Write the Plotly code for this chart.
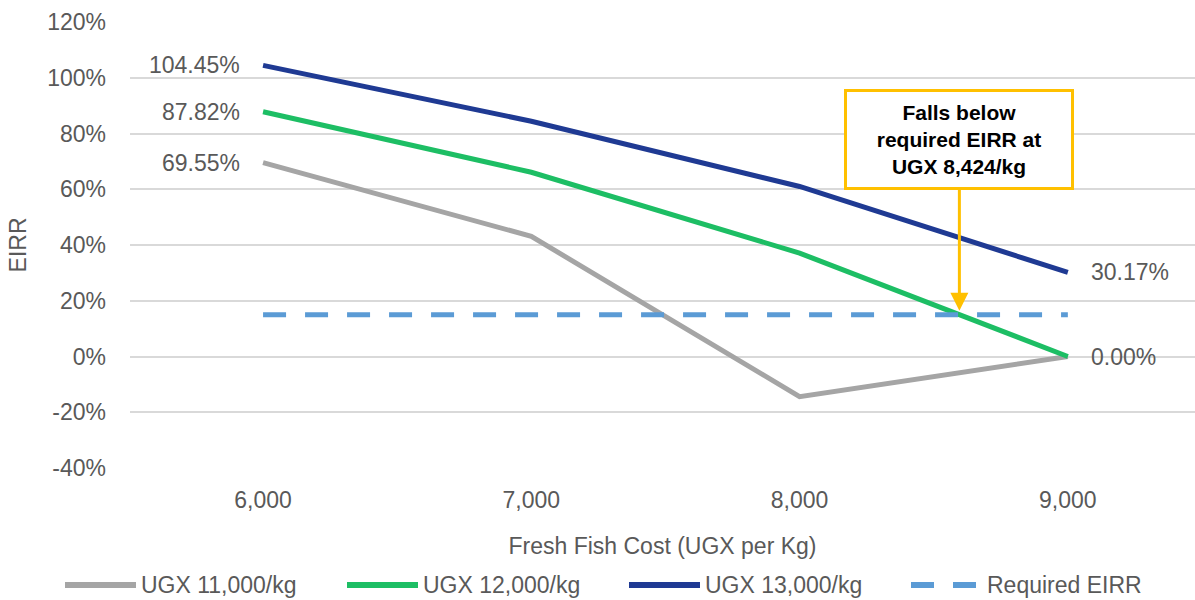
import plotly.graph_objects as go

# Fresh fish cost scenarios (UGX per kg)
fish_cost = [6000, 7000, 8000, 9000]
cost_labels = ["6,000", "7,000", "8,000", "9,000"]

# EIRR (%) for each selling price scenario
series_names = ["UGX 11,000/kg", "UGX 12,000/kg", "UGX 13,000/kg"]
eirr_11000 = [69.55, 43.1, -14.4, 0.00]
eirr_12000 = [87.82, 66.1, 37.1, 0.00]
eirr_13000 = [104.45, 84.4, 61.0, 30.17]
required_eirr = [15, 15, 15, 15]
required_name = "Required EIRR"

# y-axis ticks (percent)
y_ticks = [-40, -20, 0, 20, 40, 60, 80, 100, 120]
y_tick_labels = [f"{v}%" for v in y_ticks]

colors = ["#A5A5A5", "#1DBE64", "#1F3A93"]
req_color = "#5B9BD5"
note_color = "#FFC000"
text_color = "#595959"
FONT = "Liberation Sans, Arial, sans-serif"

# plot-area geometry (pixels) used to place the custom legend
W, H = 1195, 600
ML, MR, MT, MB = 130, 0, 22, 132
PW = W - ML - MR
PH = H - MT - MB


def px_x(p):
    return (p - ML) / PW


def px_y(p):
    return (H - MB - p) / PH


fig = go.Figure()

all_series = [eirr_11000, eirr_12000, eirr_13000]
for name, vals, col in zip(series_names, all_series, colors):
    fig.add_trace(go.Scatter(
        x=fish_cost, y=vals, mode="lines", name=name,
        line=dict(color=col, width=5), showlegend=False,
    ))

fig.add_trace(go.Scatter(
    x=fish_cost, y=required_eirr, mode="lines", name=required_name,
    line=dict(color=req_color, width=5, dash="23px,19px"), showlegend=False,
))

annotations = []

# value labels at the first and last points
for vals in all_series:
    annotations.append(dict(
        x=fish_cost[0], y=vals[0], text=f"{vals[0]:.2f}%", showarrow=False,
        xanchor="right", yanchor="middle", xshift=-21,
        font=dict(family=FONT, size=23, color=text_color),
    ))
for vals in [eirr_12000, eirr_13000]:
    annotations.append(dict(
        x=fish_cost[-1], y=vals[-1], text=f"{vals[-1]:.2f}%", showarrow=False,
        xanchor="left", yanchor="middle", xshift=21,
        font=dict(family=FONT, size=23, color=text_color),
    ))

# where the UGX 12,000/kg line meets the required EIRR
x0, x1 = fish_cost[2], fish_cost[3]
y0, y1 = eirr_12000[2], eirr_12000[3]
req = required_eirr[0]
cross_x = x0 + (y0 - req) / (y0 - y1) * (x1 - x0)

annotations.append(dict(
    x=cross_x, y=req, xref="x", yref="y",
    ax=cross_x, ay=78, axref="x", ayref="y",
    text="<b>Falls below<br>required EIRR at<br>UGX 8,424/kg</b>",
    showarrow=True, arrowhead=2, arrowsize=1.2, arrowwidth=3,
    arrowcolor=note_color, standoff=4,
    bordercolor=note_color, borderwidth=3, borderpad=0,
    bgcolor="white", width=224, height=95, align="center",
    font=dict(family=FONT, size=21, color="black"),
))

# custom legend with long line symbols
shapes = []
legend_items = list(zip(series_names, colors, ["solid"] * 3)) + [
    (required_name, req_color, "23px,19px")]
leg_y = 585
for i, (name, col, dash) in enumerate(legend_items):
    start = 65 + i * 282
    shapes.append(dict(
        type="line", xref="paper", yref="paper",
        x0=px_x(start), x1=px_x(start + 71), y0=px_y(leg_y), y1=px_y(leg_y),
        line=dict(color=col, width=6, dash=dash),
    ))
    annotations.append(dict(
        x=px_x(start + 74), y=px_y(leg_y), xref="paper", yref="paper",
        text=name, showarrow=False, xanchor="left", yanchor="middle",
        font=dict(family=FONT, size=23, color=text_color),
    ))

fig.update_layout(
    width=W, height=H,
    margin=dict(l=ML, r=MR, t=MT, b=MB),
    plot_bgcolor="white", paper_bgcolor="white",
    font=dict(family=FONT, size=23, color=text_color),
    annotations=annotations, shapes=shapes,
    showlegend=False,
)

fig.update_xaxes(
    range=[5504, 9474], tickvals=fish_cost, ticktext=cost_labels,
    showgrid=False, zeroline=False, showline=False,
    ticks="", ticklabelstandoff=16,
    tickfont=dict(family=FONT, size=23, color=text_color),
    title=dict(text="Fresh Fish Cost (UGX per Kg)", standoff=25,
               font=dict(family=FONT, size=23, color=text_color)),
)

fig.update_yaxes(
    range=[-40, 120], tickvals=y_ticks, ticktext=y_tick_labels,
    showgrid=True, gridcolor="#D9D9D9", gridwidth=1.5,
    zeroline=False, showline=False, ticks="", ticklabelstandoff=23,
    tickfont=dict(family=FONT, size=23, color=text_color),
    title=dict(text="EIRR", standoff=14,
               font=dict(family=FONT, size=23, color=text_color)),
)

fig.write_html("out.html")
